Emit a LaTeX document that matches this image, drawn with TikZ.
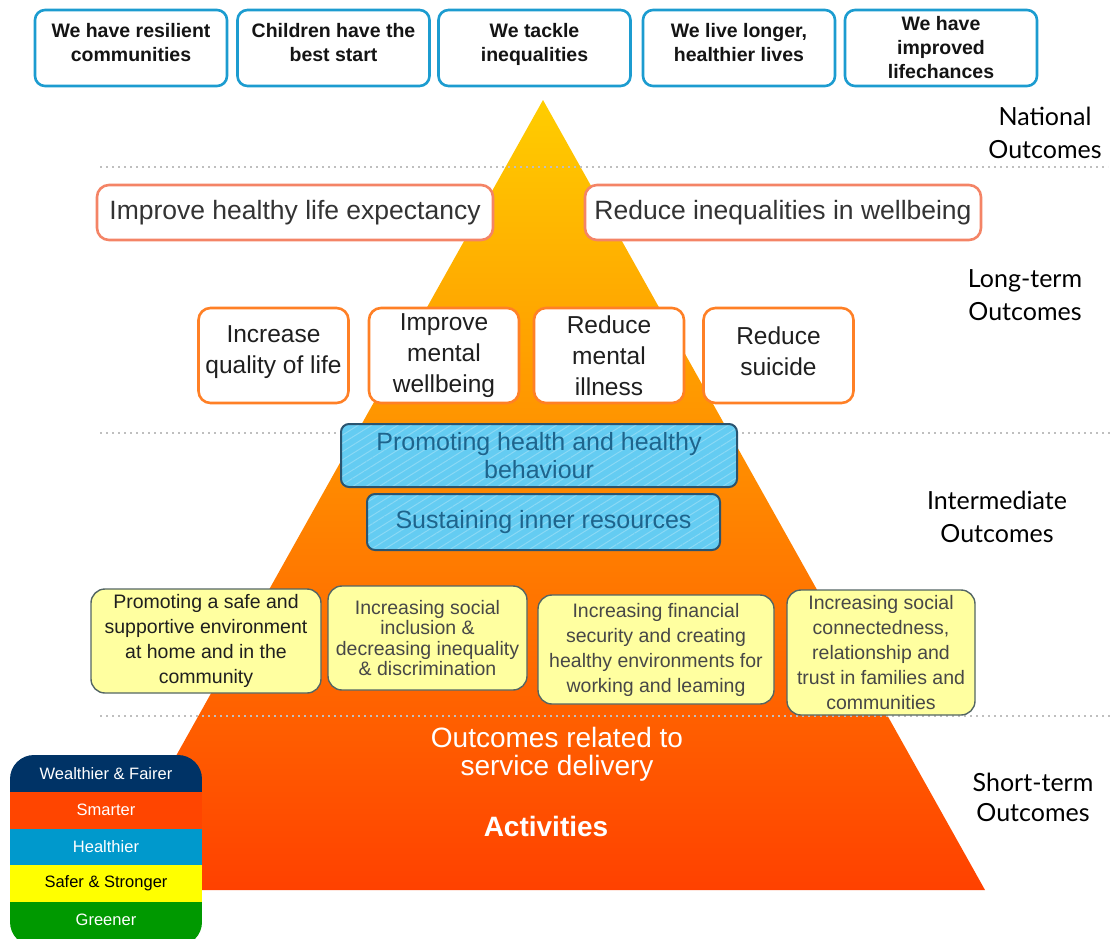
\documentclass[tikz,border=0pt]{standalone}
\usepackage{fontspec}
\setmainfont{Liberation Sans}
\newfontfamily\handfont{Lato}
\usetikzlibrary{patterns.meta}

\definecolor{natblue}{RGB}{28,156,208}
\definecolor{longsalmon}{RGB}{244,132,102}
\definecolor{longorange}{RGB}{255,128,38}
\definecolor{interfill}{RGB}{100,204,242}
\definecolor{interedge}{RGB}{42,84,112}
\definecolor{intertext}{RGB}{30,100,140}
\definecolor{shortfill}{RGB}{255,255,160}
\definecolor{shortedge}{RGB}{84,102,100}
\definecolor{pyrtop}{RGB}{255,205,0}
\definecolor{pyrmid}{RGB}{255,135,0}
\definecolor{pyrbot}{RGB}{255,65,0}
\definecolor{keynavy}{RGB}{0,51,102}
\definecolor{keyred}{RGB}{255,69,0}
\definecolor{keyblue}{RGB}{0,153,204}
\definecolor{keyyellow}{RGB}{255,255,0}
\definecolor{keygreen}{RGB}{0,153,0}

\begin{document}
\begin{tikzpicture}[x=1pt,y=-1pt,
    natbox/.style={draw=natblue, line width=2.6pt, rounded corners=10pt, fill=white,
      minimum width=192pt, minimum height=76pt, inner sep=0pt, align=center,
      font=\fontsize{19.5}{24}\selectfont\bfseries, text=black!92},
    longbox/.style={draw=longsalmon, line width=2.6pt, rounded corners=12pt, fill=white,
      minimum width=396pt, minimum height=55pt, inner sep=0pt, align=center,
      font=\fontsize{26.5}{30}\selectfont, text=black!80},
    midbox/.style={draw=longorange, line width=2.6pt, rounded corners=12pt, fill=white,
      minimum width=150pt, minimum height=95pt, inner sep=0pt, align=center,
      font=\fontsize{24.5}{31}\selectfont, text=black!88},
    interbox/.style={draw=interedge, line width=2pt, rounded corners=8pt,
      preaction={fill=interfill},
      preaction={pattern={Lines[angle=32, distance=7pt, line width=1pt]},
        pattern color=white!25!interfill},
      inner sep=0pt, align=center, font=\fontsize{25}{28}\selectfont, text=intertext},
    shortbox/.style={draw=shortedge, line width=1.4pt, rounded corners=14pt, fill=shortfill,
      inner sep=0pt, align=center, font=\fontsize{19.5}{25}\selectfont, text=black!88},
    sepline/.style={draw=black!25, line width=2.4pt, dash pattern=on 2.4pt off 3.6pt},
    tier/.style={align=center, font=\handfont\fontsize{25}{33}\selectfont, text=black},
    pyrtext/.style={align=center, text=white},
    keytext/.style={font=\fontsize{16.5}{18}\selectfont, text=white}]

  \useasboundingbox (0,0) rectangle (1112,938);

  % the pyramid
  \shade[top color=pyrtop, middle color=pyrmid, bottom color=pyrbot]
    (543,100) -- (985,890) -- (101,890) -- cycle;

  % dotted dividers between the tiers
  \foreach \y/\xend in {167/1108, 433/1112, 716/1112}
    \draw[sepline] (100,\y) -- (\xend,\y);

  % national outcomes
  \node[natbox] (resilient) at (131,48) {We have resilient\\communities\\[-12pt]};
  \node[natbox] (children) at (333.5,48) {Children have the\\best start\\[-12pt]};
  \node[natbox] (tackle) at (534.5,48) {We tackle\\inequalities\\[-12pt]};
  \node[natbox] (longer) at (739,48) {We live longer,\\healthier lives\\[-12pt]};
  \node[natbox] (chances) at (941,48) {We have\\improved\\lifechances};

  % long-term outcomes
  \node[longbox] (lifeexp) at (295,212.5) {Improve healthy life expectancy};
  \node[longbox] (ineqwell) at (783,212.5) {Reduce inequalities in wellbeing};
  \node[midbox] (quality) at (273.5,355.5) {Increase\\quality of life\\[-20pt]};
  \node[midbox] (wellbeing) at (444,355.5) {Improve\\mental\\wellbeing};
  \node[midbox] (illness) at (609,355.5) {Reduce\\mental\\illness};
  \node[midbox] (suicide) at (778.5,355.5) {Reduce\\suicide\\[-23pt]};

  % intermediate outcomes
  \node[interbox, minimum width=396pt, minimum height=63pt] (behaviour) at (539,455.5)
    {Promoting health and healthy\\behaviour};
  \node[interbox, minimum width=353pt, minimum height=56pt] (inner) at (543.5,522)
    {Sustaining inner resources};
  \node[shortbox, minimum width=230pt, minimum height=104pt] (safe) at (206,641)
    {Promoting a safe and\\supportive environment\\at home and in the\\community};
  \node[shortbox, minimum width=199pt, minimum height=104pt, text=black!72,
    font=\fontsize{19.5}{20.5}\selectfont] (inclusion) at (427.5,638)
    {Increasing social\\inclusion \&\\decreasing inequality\\\& discrimination};
  \node[shortbox, minimum width=236pt, minimum height=109pt, text=black!72] (finance) at (656,649.5)
    {Increasing financial\\security and creating\\healthy environments for\\working and leaming};
  \node[shortbox, minimum width=188pt, minimum height=125pt, text=black!72] (connect) at (881,652.5)
    {Increasing social\\connectedness,\\relationship and\\trust in families and\\communities};

  % short-term outcomes
  \node[pyrtext, font=\fontsize{28}{28}\selectfont] (service) at (557,754)
    {Outcomes related to\\service delivery};
  \node[pyrtext, font=\fontsize{28}{30}\selectfont\bfseries] (activities) at (546,826) {Activities};

  % tier names down the right
  \node[tier] (national) at (1045,133) {National\\Outcomes};
  \node[tier] (longterm) at (1025,295) {Long-term\\Outcomes};
  \node[tier] (intermediate) at (997,517) {Intermediate\\Outcomes};
  \node[tier, font=\handfont\fontsize{25}{30}\selectfont] (shortterm) at (1033,797) {Short-term\\Outcomes};

  % colour key
  \begin{scope}
    \clip[rounded corners=24pt] (10,755) rectangle (202,946);
    \fill[keynavy] (10,755) rectangle (202,792);
    \fill[keyred] (10,792) rectangle (202,829);
    \fill[keyblue] (10,829) rectangle (202,865);
    \fill[keyyellow] (10,865) rectangle (202,902);
    \fill[keygreen] (10,902) rectangle (202,946);
  \end{scope}
  \node[keytext] (wealthier) at (106,774) {Wealthier \& Fairer};
  \node[keytext] (smarter) at (106,810) {Smarter};
  \node[keytext] (healthier) at (106,847) {Healthier};
  \node[keytext, text=black] (safer) at (106,883) {Safer \& Stronger};
  \node[keytext] (greener) at (106,920) {Greener};
\end{tikzpicture}
\end{document}
